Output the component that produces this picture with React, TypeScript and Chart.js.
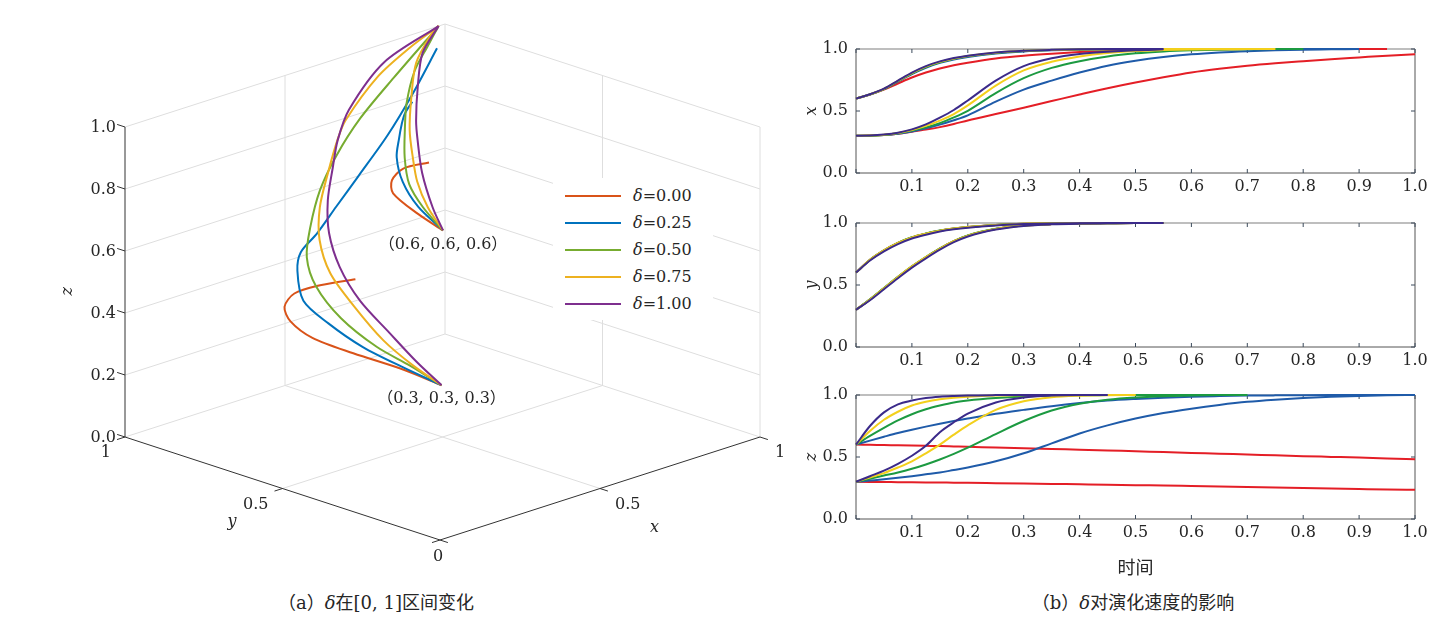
import React, { useEffect, useRef } from "react";
import { Chart, registerables } from "chart.js";

Chart.register(...registerables);

const DELTA_LABELS = ["0.00", "0.25", "0.50", "0.75", "1.00"];
const COLORS_3D = ["#D95319", "#0072BD", "#77AC30", "#EDB120", "#7E2F8E"];
const COLORS_2D = ["#e41e26", "#1f5ba9", "#1c9a41", "#f3d01c", "#3b2a8a"];

// time samples for the three right-hand panels
const TIME = [0, 0.025, 0.05, 0.075, 0.1, 0.125, 0.15, 0.175, 0.2, 0.25, 0.3, 0.35, 0.4, 0.45, 0.5, 0.55, 0.6, 0.65, 0.7, 0.75, 0.8, 0.85, 0.9, 0.95, 1];

// x(t), start 0.6 / 0.3, one row per delta
const X_HIGH = [
  [0.6, 0.633, 0.673, 0.722, 0.77, 0.81, 0.843, 0.869, 0.89, 0.924, 0.946, 0.962, 0.975, 0.984, 0.99, 0.994, 0.997, 0.998, 0.999, 1, 1, 1, 1, 1],
  [0.6, 0.633, 0.676, 0.737, 0.798, 0.849, 0.888, 0.916, 0.936, 0.964, 0.98, 0.989, 0.994, 0.997, 0.999, 1, 1, 1, 1, 1, 1, 1, 1],
  [0.6, 0.634, 0.677, 0.74, 0.802, 0.854, 0.893, 0.921, 0.941, 0.968, 0.983, 0.991, 0.995, 0.998, 0.999, 1, 1, 1, 1, 1, 1],
  [0.6, 0.634, 0.678, 0.742, 0.806, 0.858, 0.896, 0.924, 0.944, 0.97, 0.985, 0.992, 0.996, 0.998, 0.999, 1, 1, 1, 1, 1],
  [0.6, 0.635, 0.68, 0.745, 0.81, 0.862, 0.9, 0.927, 0.946, 0.972, 0.986, 0.993, 0.997, 0.999, 1, 1],
];
const X_LOW = [
  [0.3, 0.302, 0.307, 0.317, 0.333, 0.35, 0.37, 0.395, 0.424, 0.476, 0.527, 0.58, 0.633, 0.684, 0.73, 0.772, 0.81, 0.84, 0.865, 0.885, 0.902, 0.918, 0.932, 0.946, 0.958],
  [0.3, 0.301, 0.306, 0.317, 0.335, 0.36, 0.39, 0.425, 0.465, 0.575, 0.672, 0.745, 0.81, 0.865, 0.905, 0.935, 0.957, 0.972, 0.982, 0.989, 0.994, 0.997, 1],
  [0.3, 0.301, 0.307, 0.32, 0.342, 0.368, 0.402, 0.448, 0.502, 0.645, 0.765, 0.848, 0.902, 0.94, 0.965, 0.98, 0.989, 0.994, 0.997, 0.999, 1],
  [0.3, 0.302, 0.308, 0.322, 0.347, 0.38, 0.422, 0.475, 0.545, 0.705, 0.828, 0.897, 0.94, 0.968, 0.983, 0.991, 0.996, 0.998, 0.999, 1],
  [0.3, 0.302, 0.31, 0.325, 0.352, 0.392, 0.446, 0.508, 0.585, 0.745, 0.862, 0.925, 0.96, 0.978, 0.99, 0.997],
];

// y(t)
const Y_HIGH = [
  [0.6, 0.703, 0.779, 0.839, 0.884, 0.914, 0.938, 0.955, 0.967, 0.983, 0.993, 0.997, 0.998, 0.999, 1, 1],
  [0.6, 0.702, 0.778, 0.838, 0.883, 0.913, 0.937, 0.954, 0.966, 0.983, 0.992, 0.996, 0.998, 0.999, 1, 1],
  [0.6, 0.704, 0.78, 0.84, 0.885, 0.915, 0.939, 0.956, 0.968, 0.984, 0.993, 0.997, 0.999, 0.999, 1, 1],
  [0.6, 0.703, 0.779, 0.839, 0.884, 0.914, 0.938, 0.955, 0.967, 0.983, 0.993, 0.997, 0.998, 0.999, 1, 1],
  [0.6, 0.697, 0.771, 0.83, 0.875, 0.906, 0.931, 0.949, 0.962, 0.98, 0.991, 0.996, 0.998, 0.999, 1, 1],
];
const Y_LOW = [
  [0.3, 0.383, 0.474, 0.564, 0.649, 0.724, 0.793, 0.853, 0.898, 0.952, 0.979, 0.991, 0.996, 0.998, 1, 1],
  [0.3, 0.382, 0.473, 0.563, 0.648, 0.723, 0.792, 0.852, 0.897, 0.951, 0.979, 0.991, 0.996, 0.998, 1, 1],
  [0.3, 0.384, 0.475, 0.566, 0.651, 0.726, 0.795, 0.854, 0.899, 0.953, 0.98, 0.991, 0.996, 0.998, 1, 1],
  [0.3, 0.383, 0.474, 0.565, 0.65, 0.725, 0.794, 0.853, 0.898, 0.952, 0.979, 0.991, 0.996, 0.998, 1, 1],
  [0.3, 0.377, 0.466, 0.555, 0.64, 0.715, 0.785, 0.845, 0.891, 0.947, 0.976, 0.989, 0.995, 0.998, 1, 1],
];

// z(t)
const Z_HIGH = [
  [0.6, 0.598, 0.596, 0.594, 0.592, 0.59, 0.588, 0.585, 0.582, 0.577, 0.571, 0.565, 0.559, 0.553, 0.546, 0.54, 0.533, 0.527, 0.52, 0.514, 0.507, 0.501, 0.495, 0.488, 0.482],
  [0.6, 0.632, 0.663, 0.693, 0.72, 0.745, 0.768, 0.79, 0.81, 0.848, 0.88, 0.91, 0.935, 0.955, 0.968, 0.978, 0.986, 0.991, 0.995, 0.997, 0.998, 0.999, 1, 1, 1],
  [0.6, 0.67, 0.735, 0.795, 0.845, 0.885, 0.915, 0.94, 0.955, 0.975, 0.988, 0.995, 0.998, 0.999, 1, 1, 1, 1, 1],
  [0.6, 0.71, 0.8, 0.865, 0.915, 0.945, 0.965, 0.978, 0.986, 0.995, 0.998, 1, 1, 1, 1],
  [0.6, 0.75, 0.86, 0.925, 0.955, 0.975, 0.986, 0.992, 0.996, 0.999, 1, 1, 1, 1],
];
const Z_LOW = [
  [0.3, 0.299, 0.298, 0.297, 0.296, 0.295, 0.294, 0.293, 0.292, 0.289, 0.286, 0.283, 0.28, 0.277, 0.273, 0.27, 0.266, 0.262, 0.258, 0.254, 0.25, 0.246, 0.242, 0.238, 0.235],
  [0.3, 0.31, 0.32, 0.332, 0.345, 0.36, 0.375, 0.395, 0.415, 0.465, 0.53, 0.61, 0.69, 0.755, 0.81, 0.855, 0.89, 0.92, 0.945, 0.962, 0.975, 0.985, 0.992, 0.997, 1],
  [0.3, 0.325, 0.35, 0.375, 0.405, 0.44, 0.48, 0.525, 0.575, 0.685, 0.79, 0.875, 0.93, 0.962, 0.98, 0.99, 0.996, 0.999, 1],
  [0.3, 0.335, 0.37, 0.415, 0.465, 0.53, 0.6, 0.68, 0.755, 0.88, 0.95, 0.982, 0.994, 0.998, 1],
  [0.3, 0.345, 0.39, 0.445, 0.51, 0.59, 0.7, 0.78, 0.85, 0.94, 0.98, 0.995, 1, 1],
];

// 3D trajectories [x, y, z] from (0.6, 0.6, 0.6)
const PATH_HIGH = [
  [[0.6, 0.6, 0.6], [0.64, 0.72, 0.6], [0.7, 0.86, 0.6], [0.775, 0.94, 0.59], [0.85, 0.98, 0.59], [0.95, 1, 0.57]],
  [[0.6, 0.6, 0.6], [0.66, 0.74, 0.61], [0.74, 0.87, 0.62], [0.79, 0.94, 0.66], [0.825, 0.968, 0.7], [0.845, 0.98, 0.735], [0.865, 0.99, 0.76], [0.895, 0.997, 0.785]],
  [[0.6, 0.6, 0.6], [0.695, 0.76, 0.59], [0.77, 0.88, 0.6], [0.815, 0.94, 0.65], [0.845, 0.97, 0.72], [0.87, 0.99, 0.79], [0.905, 1, 0.88], [0.945, 1, 0.945], [0.98, 1, 1]],
  [[0.6, 0.6, 0.6], [0.71, 0.76, 0.585], [0.795, 0.88, 0.6], [0.84, 0.94, 0.645], [0.865, 0.975, 0.71], [0.885, 0.99, 0.805], [0.91, 1, 0.905], [0.96, 1, 0.985], [0.98, 1, 1]],
  [[0.6, 0.6, 0.6], [0.725, 0.76, 0.58], [0.83, 0.9, 0.61], [0.875, 0.96, 0.68], [0.89, 0.98, 0.73], [0.91, 0.995, 0.83], [0.93, 1, 0.93], [0.98, 1, 1]],
];
// 3D trajectories from (0.3, 0.3, 0.3)
const PATH_LOW = [
  [[0.3, 0.3, 0.3], [0.3, 0.42, 0.31], [0.3, 0.58, 0.31], [0.31, 0.72, 0.31], [0.34, 0.82, 0.32], [0.4, 0.9, 0.32], [0.48, 0.95, 0.32], [0.59, 0.98, 0.3], [0.72, 1, 0.27]],
  [[0.3, 0.3, 0.3], [0.31, 0.43, 0.31], [0.33, 0.58, 0.32], [0.36, 0.72, 0.34], [0.4, 0.84, 0.36], [0.46, 0.92, 0.41], [0.51, 0.96, 0.44], [0.58, 0.98, 0.47], [0.65, 0.99, 0.53], [0.73, 1, 0.6], [0.82, 1, 0.7], [0.9, 1, 0.81], [0.975, 1, 0.93]],
  [[0.3, 0.3, 0.3], [0.3, 0.4, 0.33], [0.315, 0.52, 0.345], [0.36, 0.68, 0.37], [0.4, 0.8, 0.42], [0.45, 0.88, 0.47], [0.51, 0.93, 0.53], [0.57, 0.96, 0.62], [0.64, 0.98, 0.7], [0.725, 0.99, 0.79], [0.84, 1, 0.88], [0.98, 1, 1]],
  [[0.3, 0.3, 0.3], [0.32, 0.41, 0.32], [0.335, 0.52, 0.36], [0.38, 0.66, 0.41], [0.425, 0.78, 0.46], [0.48, 0.87, 0.52], [0.54, 0.93, 0.585], [0.6, 0.965, 0.665], [0.65, 0.985, 0.75], [0.68, 0.99, 0.8], [0.79, 1, 0.9], [0.89, 1, 0.96], [0.98, 1, 1]],
  [[0.3, 0.3, 0.3], [0.3, 0.38, 0.35], [0.335, 0.5, 0.39], [0.37, 0.63, 0.44], [0.425, 0.75, 0.49], [0.49, 0.85, 0.545], [0.555, 0.92, 0.605], [0.61, 0.96, 0.68], [0.645, 0.98, 0.75], [0.69, 0.99, 0.83], [0.81, 1, 0.94], [0.98, 1, 1]],
];

const Z_TICKS = [0, 0.2, 0.4, 0.6, 0.8, 1];
const XY_TICKS = [0, 0.5, 1];
const START_POINTS = [[0.6, 0.6, 0.6], [0.3, 0.3, 0.3]];

const FONT = "16px 'DejaVu Serif', 'Liberation Serif', serif";
const ITALIC = "italic 16px 'DejaVu Serif', 'Liberation Serif', serif";
const CJK = "18px 'DejaVu Serif', 'Noto Sans CJK SC', sans-serif";
const INK = "#262626";

// orthographic view of the unit cube (canvas units, origin bottom-left)
const project = (p: number[]) => ({
  x: 440 + 320 * p[0] - 315 * p[1],
  y: 50 + 103 * p[0] + 103 * p[1] + 310 * p[2],
});

const cubeLabels = {
  id: "cubeLabels",
  afterDatasetsDraw(chart: any) {
    const { ctx } = chart;
    const sx = chart.scales.x;
    const sy = chart.scales.y;
    const put = (s: string, p: number[], dx: number, dy: number, align: string, font = FONT) => {
      const q = project(p);
      ctx.font = font;
      ctx.textAlign = align;
      ctx.textBaseline = "middle";
      ctx.fillText(s, sx.getPixelForValue(q.x) + dx, sy.getPixelForValue(q.y) + dy);
    };
    ctx.save();
    ctx.fillStyle = INK;
    Z_TICKS.forEach((z) => put(z.toFixed(1), [0, 1, z], -9, 1, "right"));
    XY_TICKS.forEach((v) => {
      const s = String(v);
      if (v === 0) {
        put(s, [0, 0, 0], -2, 17, "center");
        return;
      }
      put(s, [0, v, 0], -14, 16, "right");
      put(s, [v, 0, 0], 15, 16, "left");
    });
    put("y", [0, 0.66, 0], 0, 50, "center", ITALIC);
    put("x", [0.67, 0, 0], 0, 57, "center", ITALIC);
    const zq = project([0, 1, 0.47]);
    ctx.translate(sx.getPixelForValue(zq.x) - 57, sy.getPixelForValue(zq.y));
    ctx.rotate(-Math.PI / 2);
    ctx.font = ITALIC;
    ctx.textAlign = "center";
    ctx.fillText("z", 0, 0);
    ctx.setTransform(1, 0, 0, 1, 0, 0);
    START_POINTS.forEach((p) => put(`（${p.map((v) => v.toFixed(1)).join(", ")}）`, p, 0, 14, "center", "16px 'DejaVu Serif', 'Noto Sans CJK SC', serif"));
    ctx.restore();
  },
};

const Cube: React.FC = () => {
  const ref = useRef<HTMLCanvasElement | null>(null);

  useEffect(() => {
    if (!ref.current) return;
    const seg = (a: number[], b: number[], color: string, width: number, order: number) => ({
      data: [project(a), project(b)],
      borderColor: color,
      borderWidth: width,
      pointRadius: 0,
      showLine: true,
      order,
    });

    const grid: number[][][] = [];
    Z_TICKS.forEach((z) => grid.push([[0, 1, z], [1, 1, z]], [[1, 1, z], [1, 0, z]]));
    [0.5, 1].forEach((x) => grid.push([[x, 1, 0], [x, 1, 1]]));
    [0, 0.5].forEach((y) => grid.push([[1, y, 0], [1, y, 1]]));
    grid.push([[0.5, 0, 0], [0.5, 1, 0]], [[0, 0.5, 0], [1, 0.5, 0]]);

    const axes: number[][][] = [[[0, 1, 0], [0, 1, 1]], [[0, 1, 0], [0, 0, 0]], [[0, 0, 0], [1, 0, 0]]];
    Z_TICKS.forEach((z) => axes.push([[0, 1, z], [0, 1.025, z]]));
    XY_TICKS.forEach((v) => axes.push([[0, v, 0], [-0.025, v, 0]], [[v, 0, 0], [v, -0.025, 0]]));

    const curves: any[] = [];
    [PATH_HIGH, PATH_LOW].forEach((group) =>
      group.forEach((path, k) =>
        curves.push({
          data: path.map(project),
          borderColor: COLORS_3D[k],
          borderWidth: 2,
          pointRadius: 0,
          showLine: true,
          tension: 0.3,
          order: 4 - k,
        })
      )
    );

    const chart = new Chart(ref.current, {
      type: "scatter",
      data: {
        datasets: [
          ...curves,
          ...axes.map(([a, b]) => seg(a, b, "#333333", 1, 15)),
          ...grid.map(([a, b]) => seg(a, b, "#dedede", 1, 20)),
        ],
      },
      options: {
        animation: false,
        responsive: false,
        events: [],
        layout: { padding: 0 },
        plugins: { legend: { display: false }, tooltip: { enabled: false } },
        scales: {
          x: { type: "linear", min: 0, max: 800, display: false },
          y: { type: "linear", min: 0, max: 590, display: false },
        },
      },
      plugins: [cubeLabels as any],
    });

    return () => {
      chart.destroy();
    };
  }, []);

  return <canvas ref={ref} width={800} height={590} style={{ position: "absolute", left: 0, top: 0 }} />;
};

// box with inward tick marks, drawn under the lines
const frame = {
  id: "frame",
  beforeDatasetsDraw(chart: any) {
    const { ctx, chartArea: a } = chart;
    const sx = chart.scales.x;
    const sy = chart.scales.y;
    ctx.save();
    ctx.lineWidth = 1;
    ctx.strokeStyle = "#555555";
    ctx.beginPath();
    ctx.moveTo(a.left, a.top);
    ctx.lineTo(a.left, a.bottom);
    ctx.lineTo(a.right, a.bottom);
    ctx.lineTo(a.right, a.top);
    ctx.stroke();
    ctx.strokeStyle = "#a9a9a9";
    ctx.lineWidth = 1.5;
    ctx.beginPath();
    ctx.moveTo(a.left, a.top);
    ctx.lineTo(a.right, a.top);
    ctx.stroke();
    ctx.strokeStyle = "#3c4b5c";
    ctx.lineWidth = 1;
    ctx.beginPath();
    sx.ticks.forEach((t: any) => {
      const px = sx.getPixelForValue(t.value);
      ctx.moveTo(px, a.bottom);
      ctx.lineTo(px, a.bottom - 4);
      ctx.moveTo(px, a.top);
      ctx.lineTo(px, a.top + 4);
    });
    sy.ticks.forEach((t: any) => {
      const py = sy.getPixelForValue(t.value);
      ctx.moveTo(a.left, py);
      ctx.lineTo(a.left + 4, py);
      ctx.moveTo(a.right, py);
      ctx.lineTo(a.right - 4, py);
    });
    ctx.stroke();
    ctx.restore();
  },
};

type PanelProps = {
  high: number[][];
  low: number[][];
  label: string;
  top: number;
  padTop: number;
  height: number;
  xTitle?: string;
};

const TimePanel: React.FC<PanelProps> = ({ high, low, label, top, padTop, height, xTitle }) => {
  const ref = useRef<HTMLCanvasElement | null>(null);

  useEffect(() => {
    if (!ref.current) return;
    const datasets: any[] = [];
    [high, low].forEach((group) =>
      group.forEach((vals, k) =>
        datasets.push({
          data: vals.map((v, i) => ({ x: TIME[i], y: v })),
          borderColor: COLORS_2D[k],
          borderWidth: 2,
          pointRadius: 0,
          showLine: true,
          cubicInterpolationMode: "monotone",
          order: 4 - k,
          clip: 4,
        })
      )
    );

    const tickFont = { family: "'DejaVu Serif', 'Liberation Serif', serif", size: 16 };
    const chart = new Chart(ref.current, {
      type: "scatter",
      data: { datasets },
      options: {
        animation: false,
        responsive: false,
        events: [],
        layout: { padding: { top: padTop, right: 25, left: 0, bottom: 0 } },
        plugins: { legend: { display: false }, tooltip: { enabled: false } },
        scales: {
          x: {
            type: "linear",
            min: 0,
            max: 1,
            afterFit: (s: any) => {
              s.height = xTitle ? 59 : 30;
            },
            grid: { display: false, drawTicks: false },
            border: { display: false },
            ticks: {
              stepSize: 0.1,
              padding: 4,
              autoSkip: false,
              maxRotation: 0,
              color: INK,
              font: tickFont,
              callback: (v: any) => (Number(v) === 0 ? "" : Number(v).toFixed(1)),
            },
            title: {
              display: !!xTitle,
              text: xTitle || "",
              color: INK,
              padding: { top: 1, bottom: 0 },
              font: { family: "'Noto Sans CJK SC', sans-serif", size: 18 },
            },
          },
          y: {
            type: "linear",
            min: 0,
            max: 1,
            afterFit: (s: any) => {
              s.width = 56;
            },
            grid: { display: false, drawTicks: false },
            border: { display: false },
            ticks: {
              stepSize: 0.5,
              padding: 8,
              color: INK,
              font: tickFont,
              callback: (v: any) => Number(v).toFixed(1),
            },
            title: {
              display: true,
              text: label,
              color: INK,
              padding: { top: 2, bottom: 0 },
              font: { ...tickFont, style: "italic" },
            },
          },
        },
      },
      plugins: [frame as any],
    });

    return () => {
      chart.destroy();
    };
  }, [high, low, label, padTop, xTitle]);

  return <canvas ref={ref} width={640} height={height} style={{ position: "absolute", left: 800, top }} />;
};

const App: React.FC = () => {
  useEffect(() => {
    document.body.style.margin = "0";
  }, []);

  return (
    <div style={{ position: "relative", width: 1451, height: 623, background: "#ffffff", overflow: "hidden" }}>
      <Cube />
      <div style={{ position: "absolute", left: 553, top: 178, width: 160, height: 142, background: "#ffffff", paddingTop: 4, boxSizing: "border-box" }}>
        {DELTA_LABELS.map((d, k) => (
          <div key={d} style={{ display: "flex", alignItems: "center", height: 27 }}>
            <span style={{ display: "inline-block", width: 56, height: 2, background: COLORS_3D[k], marginLeft: 12, marginRight: 12 }} />
            <span style={{ font: FONT, color: INK, whiteSpace: "nowrap" }}>
              <i>δ</i>={d}
            </span>
          </div>
        ))}
      </div>
      <TimePanel high={X_HIGH} low={X_LOW} label="x" top={30} padTop={19} height={173} />
      <TimePanel high={Y_HIGH} low={Y_LOW} label="y" top={203} padTop={20} height={174} />
      <TimePanel high={Z_HIGH} low={Z_LOW} label="z" top={377} padTop={18} height={201} xTitle="时间" />
      <div style={{ position: "absolute", left: 176, width: 400, top: 591, textAlign: "center", font: CJK, lineHeight: "24px", color: INK }}>
        （a）<i>δ</i>在[0, 1]区间变化
      </div>
      <div style={{ position: "absolute", left: 933, width: 400, top: 591, textAlign: "center", font: CJK, lineHeight: "24px", color: INK }}>
        （b）<i>δ</i>对演化速度的影响
      </div>
    </div>
  );
};

export default App;
